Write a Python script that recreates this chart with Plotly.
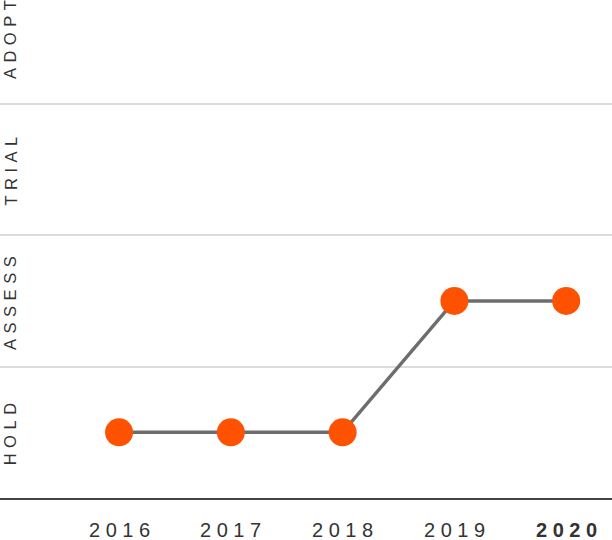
import plotly.graph_objects as go

years = [2016, 2017, 2018, 2019, 2020]
rings = ["HOLD", "ASSESS", "TRIAL", "ADOPT"]
status = ["HOLD", "HOLD", "HOLD", "ASSESS", "ASSESS"]

ring_pos = {r: i + 0.5 for i, r in enumerate(rings)}
yvals = [ring_pos[s] for s in status]

fig = go.Figure()
fig.add_trace(go.Scatter(
    x=years, y=yvals, mode="lines+markers",
    line=dict(color="#6d6d6d", width=3.5),
    marker=dict(size=28, color="#ff5200", line=dict(width=0)),
    hoverinfo="skip", showlegend=False,
))

SP = "\u2004"
for r in rings:
    fig.add_annotation(
        x=10 / 612, xref="paper", y=ring_pos[r], yref="y", yshift=-2,
        text=SP.join(r), textangle=-90, showarrow=False,
        xanchor="center", yanchor="middle",
        font=dict(family="Liberation Sans, Arial, sans-serif", size=16.5, color="#333333"),
    )

for i, yr in enumerate(years):
    t = " ".join(str(yr))
    if i == len(years) - 1:
        t = "<b>" + t + "</b>"
    fig.add_annotation(
        x=yr, xref="x", y=0, yref="paper", yshift=-32,
        text=t, showarrow=False, xanchor="center", yanchor="middle",
        font=dict(family="Liberation Sans, Arial, sans-serif", size=20, color="#333333"),
    )

fig.update_xaxes(range=[2014.935, 2020.41], showgrid=False, zeroline=False,
                 showticklabels=False, showline=True, linecolor="#444444", linewidth=2,
                 fixedrange=True)
fig.update_yaxes(range=[0, 3.79], tickvals=[1, 2, 3], showgrid=True,
                 gridcolor="#dcdcdc", gridwidth=1.5, zeroline=False,
                 showticklabels=False, fixedrange=True)

fig.update_layout(
    width=612, height=540,
    margin=dict(l=0, r=0, t=0, b=42),
    plot_bgcolor="white", paper_bgcolor="white",
)

fig.write_html("out.html")
